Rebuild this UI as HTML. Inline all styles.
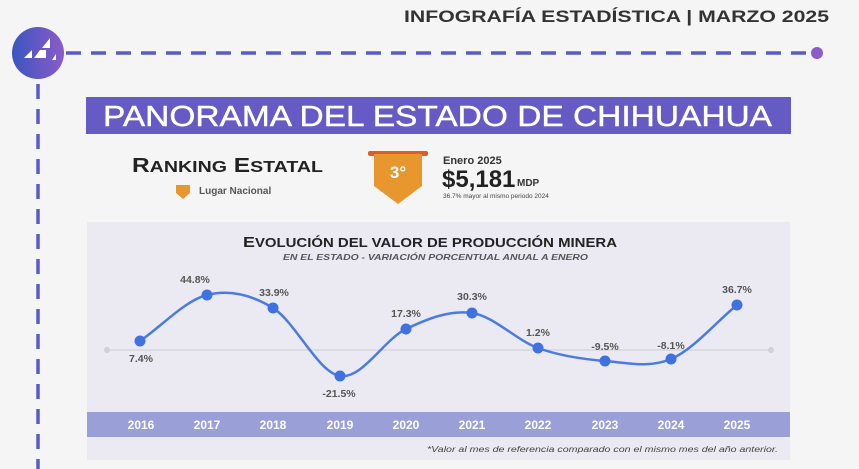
<!DOCTYPE html>
<html><head><meta charset="utf-8"><style>
body{margin:0;width:859px;height:469px;overflow:hidden;background:#f5f5f6;font-family:"Liberation Sans",sans-serif;}
</style></head><body>
<svg width="859" height="469" xmlns="http://www.w3.org/2000/svg" style="position:absolute;left:0;top:0">
<defs><linearGradient id="g" x1="0" x2="1"><stop offset="0" stop-color="#3a55c0"/><stop offset="1" stop-color="#8a5cc8"/></linearGradient></defs>
<text x="404" y="22" textLength="425" lengthAdjust="spacingAndGlyphs" font-size="17" font-weight="bold" fill="#333">INFOGRAFÍA ESTADÍSTICA | MARZO 2025</text>
<line x1="66" y1="53" x2="812" y2="53" stroke="#5a5ac8" stroke-width="3.5" stroke-dasharray="15,10"/>
<circle cx="817" cy="53" r="6" fill="#8a5cc8"/>
<line x1="38" y1="84" x2="38" y2="469" stroke="#5a5ac8" stroke-width="3.5" stroke-dasharray="15,10"/>
<circle cx="38" cy="53" r="26" fill="url(#g)"/>
<path d="M24 58 l8 -8 v8z M34 58 l6 -8 h6 v8z M42 48 l8 -10 v10z M52 60 l4 -6 v6z" fill="#fff"/>
<rect x="86" y="97" width="705" height="37" fill="#665ac4"/>
<text x="103" y="126" textLength="669" lengthAdjust="spacingAndGlyphs" font-size="29" fill="#fff" stroke="#fff" stroke-width="0.4">PANORAMA DEL ESTADO DE CHIHUAHUA</text>
<text x="132" y="172" textLength="191" lengthAdjust="spacingAndGlyphs" font-size="20" font-weight="bold" fill="#222">R<tspan font-size="16">ANKING</tspan> E<tspan font-size="16">STATAL</tspan></text>
<path d="M176 185 h14 v8 l-7 6 l-7 -6z" fill="#e8962e"/>
<text x="199" y="194" font-size="10" font-weight="bold" fill="#555">Lugar Nacional</text>
<rect x="368" y="151" width="60" height="5" rx="2" fill="#d9602e"/>
<path d="M374 154 h48 v32 l-24 18 l-24 -18z" fill="#e8962e"/>
<text x="398" y="178" text-anchor="middle" font-size="17" font-weight="bold" fill="#fff">3°</text>
<text x="443" y="164" font-size="11" font-weight="bold" fill="#333">Enero 2025</text>
<text x="442" y="187" font-size="24" font-weight="bold" fill="#222">$5,181</text>
<text x="517" y="186" font-size="10" font-weight="bold" fill="#333">MDP</text>
<text x="443" y="198" font-size="6.5" fill="#444">36.7% mayor al mismo periodo 2024</text>
<rect x="87" y="222" width="703" height="238" fill="#ebeaf2"/>
<text x="243" y="247" textLength="374" lengthAdjust="spacingAndGlyphs" font-size="15" font-weight="bold" fill="#222">E<tspan font-size="12.5">VOLUCIÓN DEL VALOR DE PRODUCCIÓN MINERA</tspan></text>
<text x="283" y="260" textLength="305" lengthAdjust="spacingAndGlyphs" font-size="8" font-style="italic" font-weight="bold" fill="#555">EN EL ESTADO - VARIACIÓN PORCENTUAL ANUAL A ENERO</text>
<line x1="106" y1="350" x2="772" y2="350" stroke="#d6d6dc" stroke-width="1.5"/>
<circle cx="107" cy="350" r="3" fill="#d0d0d6"/><circle cx="771" cy="350" r="3" fill="#d0d0d6"/>
<path d="M140 341 C162 326 185 300.5 207 295 C229 289.5 251 294.5 273 308 C295 321.5 318 372.5 340 376 C362 379.5 384 339.5 406 329 C428 318.5 450 309.8 472 313 C494 316.2 516 340 538 348 C560 356 583 359.2 605 361 C627 362.8 649 368.3 671 359 C693 349.7 715 323 737 305" fill="none" stroke="#4a7be0" stroke-width="2.5"/>
<g fill="#3f72e0">
<circle cx="140" cy="341" r="5.5"/><circle cx="207" cy="295" r="5.5"/><circle cx="273" cy="308" r="5.5"/><circle cx="340" cy="376" r="5.5"/><circle cx="406" cy="329" r="5.5"/><circle cx="472" cy="313" r="5.5"/><circle cx="538" cy="348" r="5.5"/><circle cx="605" cy="361" r="5.5"/><circle cx="671" cy="359" r="5.5"/><circle cx="737" cy="305" r="5.5"/>
</g>
<g font-size="10.5" font-weight="bold" fill="#555" text-anchor="middle">
<text x="141" y="362">7.4%</text><text x="195" y="283">44.8%</text><text x="274" y="296">33.9%</text><text x="339" y="397">-21.5%</text><text x="406" y="317">17.3%</text><text x="472" y="300">30.3%</text><text x="538" y="336">1.2%</text><text x="605" y="350">-9.5%</text><text x="671" y="349">-8.1%</text><text x="737" y="293">36.7%</text>
</g>
<rect x="87" y="412" width="703" height="25" fill="#9a9fd8"/>
<g font-size="12" font-weight="bold" fill="#fff" text-anchor="middle">
<text x="141" y="429">2016</text><text x="207" y="429">2017</text><text x="273" y="429">2018</text><text x="340" y="429">2019</text><text x="406" y="429">2020</text><text x="472" y="429">2021</text><text x="538" y="429">2022</text><text x="605" y="429">2023</text><text x="671" y="429">2024</text><text x="737" y="429">2025</text>
</g>
<text x="427" y="452" textLength="351" lengthAdjust="spacingAndGlyphs" font-size="8" font-style="italic" fill="#444">*Valor al mes de referencia comparado con el mismo mes del año anterior.</text>
</svg>
</body></html>
